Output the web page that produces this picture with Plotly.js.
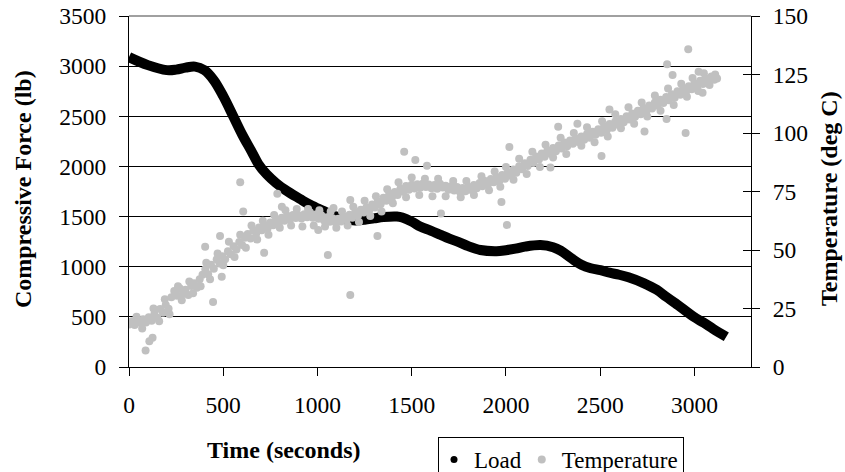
<!DOCTYPE html>
<html>
<head>
<meta charset="utf-8">
<script src="https://cdn.plot.ly/plotly-3.0.1.min.js"></script>
<style>html,body{margin:0;padding:0;background:#fff;}#chart{width:845px;height:472px;}</style>
</head>
<body>
<div id="chart"></div>
<script>
// Load (lb) vs time (s)
var loadTime = [0,100,200,250,300,350,400,450,500,553,600,650,686,731,780,830,908,950,1000,1050,1100,1150,1200,1250,1300,1350,1421,1450,1500,1545,1600,1650,1700,1750,1800,1864,1950,2000,2050,2100,2183,2250,2290,2350,2400,2450,2501,2550,2600,2650,2730,2800,2850,2900,2995,3050,3100,3169];
var loadForce = [3090,3010,2960,2965,2985,2995,2960,2860,2700,2500,2320,2150,2025,1920,1835,1765,1675,1628,1582,1540,1500,1474,1462,1468,1482,1495,1500,1490,1450,1400,1360,1320,1280,1245,1205,1167,1155,1165,1180,1200,1216,1195,1160,1080,1020,985,965,940,920,895,837,770,700,635,502,440,380,302];

// Temperature (deg C) vs time (s)
var tempTime = [0,15,30,45,60,75,90,105,120,135,150,165,180,195,210,225,240,255,270,285,300,315,330,345,360,375,390,405,420,435,450,465,480,495,510,525,540,555,570,585,600,615,630,645,660,675,690,705,720,735,750,765,780,795,810,825,840,855,870,885,900,915,930,945,960,975,990,1005,1020,1035,1050,1065,1080,1095,1110,1125,1140,1155,1170,1185,1200,1215,1230,1245,1260,1275,1290,1305,1320,1335,1350,1365,1380,1395,1410,1425,1440,1455,1470,1485,1500,1515,1530,1545,1560,1575,1590,1605,1620,1635,1650,1665,1680,1695,1710,1725,1740,1755,1770,1785,1800,1815,1830,1845,1860,1875,1890,1905,1920,1935,1950,1965,1980,1995,2010,2025,2040,2055,2070,2085,2100,2115,2130,2145,2160,2175,2190,2205,2220,2235,2250,2265,2280,2295,2310,2325,2340,2355,2370,2385,2400,2415,2430,2445,2460,2475,2490,2505,2520,2535,2550,2565,2580,2595,2610,2625,2640,2655,2670,2685,2700,2715,2730,2745,2760,2775,2790,2805,2820,2835,2850,2865,2880,2895,2910,2925,2940,2955,2970,2985,3000,3015,3030,3045,3060,3075,3090,3105,3120,
40,70,130,160,190,215,260,280,320,340,380,410,430,470,500,530,560,590,620,650,680,710,740,770,800,830,860,890,920,950,980,1010,1040,1070,1100,1130,1160,1190,1220,1250,1280,1310,1340,1370,1400,1430,1470,1500,1540,1570,1610,1640,1680,1720,1760,1790,1830,1870,1910,1940,1970,2000,2040,2070,2110,2140,2180,2210,2250,2290,2320,2360,2400,2430,2470,2510,2540,2580,2610,2650,2680,2720,2750,2790,2820,2860,2890,2930,2960,2990,3020,3050,3080,3110,
88,108,125,404,446,483,492,590,606,717,787,811,1055,1085,1174,1174,1004,1318,1460,1519,1581,1655,1976,2005,2018,2236,2277,2379,2507,2549,2735,2852,2855,2884,2953,2967,3022,3043];
var tempValue = [18.2,19.5,18.0,19.8,18.9,20.4,19.0,21.3,19.8,22.6,21.0,24.8,23.2,26.5,24.9,29.8,32.5,30.4,33.6,31.2,33.0,30.8,34.6,35.8,33.9,37.5,39.4,41.8,39.6,43.7,42.0,45.9,44.2,47.3,46.0,49.5,48.2,51.6,50.2,53.4,52.1,55.2,56.8,54.9,58.3,57.1,59.6,58.4,60.7,59.2,61.8,60.6,62.9,61.4,63.8,62.5,64.6,63.1,65.0,63.7,64.9,63.5,65.3,64.0,66.1,63.8,65.2,63.4,64.8,62.6,64.0,62.1,63.6,61.9,63.4,62.2,64.3,63.0,65.1,63.8,66.0,64.7,67.2,66.0,68.3,67.1,69.4,68.2,70.7,69.5,72.3,71.0,73.6,72.4,74.8,73.5,76.2,74.9,77.4,75.8,77.9,76.3,78.1,76.6,78.4,76.9,78.0,76.4,77.8,76.2,78.3,76.7,77.5,75.8,77.2,75.4,76.9,74.9,76.5,75.1,77.0,75.6,77.8,76.4,78.6,77.2,79.5,78.1,80.3,78.9,81.2,79.6,82.0,80.4,83.1,81.7,84.4,83.0,85.8,84.5,87.1,85.9,88.6,87.2,90.0,88.7,91.2,89.9,92.5,91.1,93.6,92.2,94.7,93.4,95.9,94.3,96.8,95.4,97.6,96.2,98.5,97.1,99.6,98.0,100.5,99.2,101.6,100.1,102.7,101.3,103.8,102.2,104.9,103.5,106.0,104.6,107.2,105.8,108.3,106.9,109.5,108.0,110.7,109.2,111.8,110.5,113.0,111.6,114.2,112.8,115.4,114.0,116.6,115.1,117.8,116.3,118.9,117.5,120.0,118.7,121.2,119.8,122.3,120.9,123.4,122.0,124.1,122.8,123.3,
21.5,16.5,25,19.5,29,22.5,34.5,28.5,36.5,31.5,34.5,44.5,37.5,48.5,43.5,53.5,47,56.5,51,60.5,54.5,62.5,56.5,65,59.5,67,60.5,67.5,60,67.5,60.5,67,60,66.5,59.5,66.5,60.5,68.5,62,71,64.5,73,66.5,76,70,79,72.5,81,73.5,80.5,73,80.5,73,79.5,72.5,79.5,73.5,81.5,75.5,83.5,77,85.5,80,89,82.5,92,85.5,95,89.5,98,91,100,94.5,102.5,96,105,98.5,108,102,111,104,113,107,116,109.5,119,112,121,115.5,123.5,118,125.5,120.5,125,
7,11,12.5,51.4,27.8,56,38.6,79,66.4,48.8,74,68.5,47.9,68,71.4,30.8,58.5,56,92,88.5,86,65.6,70.5,60.7,94,85.3,102.7,104,90.2,110,100.6,106,129.4,124.8,100,135.8,126.2,117.2];

var xTicks = [0,500,1000,1500,2000,2500,3000];
var yTicks = [0,500,1000,1500,2000,2500,3000,3500];
var y2Ticks = [0,25,50,75,100,125,150];

var FONT = 'Liberation Serif';

var traces = [
  {x: loadTime, y: loadForce, type: 'scatter', mode: 'lines', name: 'Load',
   line: {color: '#000', width: 10, shape: 'spline', smoothing: 1}, showlegend: false, hoverinfo: 'skip'},
  {x: [null], y: [null], type: 'scatter', mode: 'markers', name: 'Load',
   marker: {color: '#000', size: 7}, showlegend: true},
  {x: tempTime, y: tempValue, type: 'scatter', mode: 'markers', name: 'Temperature', yaxis: 'y2',
   marker: {color: '#C0C0C0', size: 8}, showlegend: true}
];

var layout = {
  width: 845, height: 472,
  margin: {l: 129, r: 94, t: 16, b: 105, pad: 0, autoexpand: false},
  paper_bgcolor: '#fff', plot_bgcolor: '#fff',
  font: {family: FONT, size: 23, color: '#000'},
  xaxis: {range: [0, 3300], tickvals: xTicks, ticktext: xTicks.map(String),
    ticks: 'outside', ticklen: 8, tickcolor: '#000', tickwidth: 1,
    showline: true, linecolor: '#000', linewidth: 1, showgrid: false, zeroline: false, automargin: false,
    tickfont: {family: FONT, size: 23.5, color: '#000'}, ticklabelstandoff: 9},
  yaxis: {range: [0, 3500], tickvals: yTicks, ticktext: yTicks.map(String),
    ticks: 'outside', ticklen: 9, tickcolor: '#000', tickwidth: 1, automargin: false,
    showline: true, linecolor: '#000', linewidth: 1, showgrid: true, gridcolor: '#000', gridwidth: 1, zeroline: false,
    tickfont: {family: FONT, size: 23.5, color: '#000'}, ticklabelstandoff: 8},
  yaxis2: {overlaying: 'y', side: 'right', range: [0, 150], tickvals: y2Ticks, ticktext: y2Ticks.map(String),
    ticks: 'outside', ticklen: 8, tickcolor: '#000', tickwidth: 1, automargin: false,
    showline: true, linecolor: '#000', linewidth: 1, showgrid: false, zeroline: false,
    tickfont: {family: FONT, size: 23.5, color: '#000'}, ticklabelstandoff: 8},
  yaxis3: {overlaying: 'y', side: 'right', range: [0, 150], tickvals: y2Ticks, automargin: false,
    ticks: 'inside', ticklen: 8, tickcolor: '#000', tickwidth: 1, showticklabels: false,
    showline: false, showgrid: false, zeroline: false},
  showlegend: true,
  legend: {orientation: 'h', x: 0.4968, xanchor: 'left', y: -0.1994, yanchor: 'top',
    bordercolor: '#000', borderwidth: 1, bgcolor: '#fff', indentation: -5,
    font: {family: FONT, size: 23, color: '#000'}, itemwidth: 30, tracegroupgap: 0},
  shapes: [
    {type: 'line', xref: 'paper', yref: 'paper', x0: 0, x1: 1, y0: 1, y1: 1, line: {color: '#808080', width: 1.5}, layer: 'above'}
  ],
  annotations: [
    {text: '<b>Time (seconds)</b>', xref: 'paper', yref: 'paper', x: 0.2492, y: -0.2365,
     xanchor: 'center', yanchor: 'middle', showarrow: false, font: {family: FONT, size: 24, color: '#000'}},
    {text: '<b>Compressive Force (lb)</b>', xref: 'paper', yref: 'paper', x: -0.1704, y: 0.507,
     xanchor: 'center', yanchor: 'middle', textangle: -90, showarrow: false, font: {family: FONT, size: 24, color: '#000'}},
    {text: '<b>Temperature (deg C)</b>', xref: 'paper', yref: 'paper', x: 1.1254, y: 0.4815,
     xanchor: 'center', yanchor: 'middle', textangle: -90, showarrow: false, font: {family: FONT, size: 24, color: '#000'}}
  ]
};

// empty trace on yaxis3 so the inside half of the right-axis ticks renders
traces.push({x: [null], y: [null], yaxis: 'y3', type: 'scatter', mode: 'markers', showlegend: false, hoverinfo: 'skip'});

Plotly.newPlot('chart', traces, layout, {displayModeBar: false, staticPlot: true});
</script>
</body>
</html>
